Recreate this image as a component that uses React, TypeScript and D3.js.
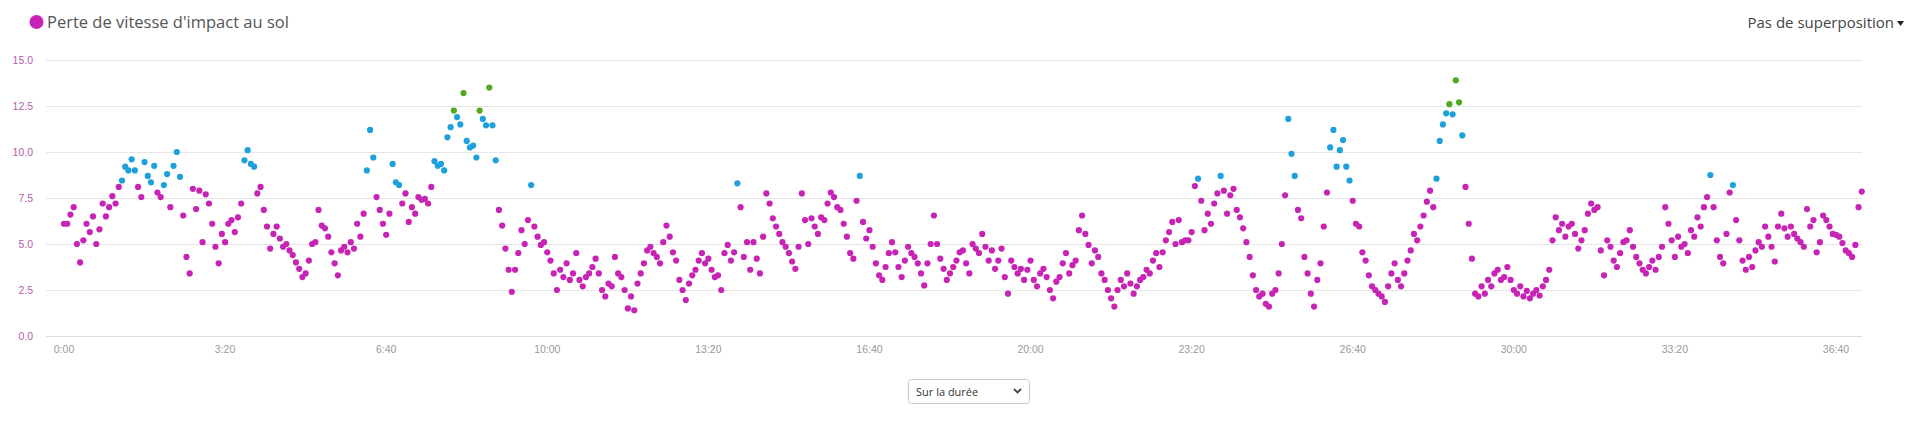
import React, { useEffect, useRef } from 'react';
import * as d3 from 'd3';

// Ground impact speed loss, one reading every 4 s
const SAMPLE_STEP = 4;

// 0:00 - 5:52
const seg1 = [
  6.1, 6.1, 6.6, 7.0, 5.0, 4.0, 5.2, 6.1, 5.65, 6.5,
  5.0, 5.8, 7.2, 6.5, 7.0, 7.6, 7.2, 8.1, 8.45, 9.2,
  9.0, 9.6, 9.0, 8.1, 7.55, 9.45, 8.7, 8.35, 9.25, 7.8,
  7.55, 8.2, 8.8, 7.0, 9.25, 10.0, 8.65, 6.55, 4.3, 3.4,
  8.0, 6.9, 7.9, 5.1, 7.7, 7.2, 6.1, 4.85, 3.95, 5.55,
  5.1, 6.1, 6.3, 5.65, 6.45, 7.2, 9.55, 10.1, 9.35, 9.2,
  7.75, 8.1, 6.85, 5.95, 4.75, 5.55, 5.95, 5.3, 4.85, 5.0,
  4.65, 4.4, 4.0, 3.65, 3.2, 3.4, 4.1, 5.0, 5.1, 6.85,
  6.0, 5.85, 5.4, 4.55, 3.95, 3.3, 4.65, 4.85, 4.55,
];
// 5:56 - 12:12
const seg2 = [
  5.1, 4.75, 6.1, 5.4, 6.65, 9.0, 11.2, 9.7, 7.55, 6.85,
  6.1, 5.5, 6.65, 9.35, 8.35, 8.2, 7.2, 7.75, 6.2, 7.0,
  6.65, 7.55, 7.4, 7.45, 7.2, 8.1, 9.5, 9.25, 9.35, 9.0,
  10.8, 11.35, 12.25, 11.9, 11.5, 13.2, 10.6, 10.25, 10.35, 9.7,
  12.25, 11.8, 11.45, 13.5, 11.45, 9.55, 6.85, 6.0, 4.75, 3.6,
  2.4, 3.6, 4.5, 5.75, 5.0, 6.3, 8.2, 5.95, 5.4, 4.95,
  5.1, 4.55, 4.1, 3.4, 2.5, 3.6, 3.2, 3.95, 3.05, 3.4,
  4.5, 3.05, 2.7, 3.2, 3.4, 3.75, 4.2, 3.4, 2.5, 2.15,
  2.85, 2.7, 4.3, 3.4, 3.2, 2.5, 1.5, 2.15, 1.4, 2.85,
  3.4, 3.95, 4.65, 4.85, 4.5,
];
// 12:16 - 18:32
const seg3 = [
  4.3, 3.95, 5.1, 6.0, 5.4, 4.55, 4.1, 3.05, 2.5, 1.95,
  2.85, 3.3, 3.6, 4.1, 4.5, 3.95, 4.2, 3.6, 3.2, 3.3,
  2.5, 4.5, 4.95, 4.1, 4.55, 8.3, 7.0, 4.3, 5.1, 3.6,
  5.1, 4.2, 3.4, 5.4, 7.75, 7.2, 6.4, 5.95, 5.55, 5.1,
  4.85, 4.5, 4.05, 3.65, 4.85, 7.75, 6.3, 5.0, 6.4, 5.95,
  5.55, 6.45, 6.3, 7.2, 7.8, 7.55, 7.0, 6.85, 6.1, 5.4,
  4.5, 4.2, 7.35, 8.7, 6.2, 5.3, 5.75, 4.85, 3.95, 3.3,
  3.05, 3.75, 4.5, 5.1, 4.55, 3.75, 3.2, 4.1, 4.85, 4.5,
  4.3, 3.95, 3.4, 2.75, 3.95, 5.0, 6.55, 5.0, 4.2, 3.65,
  3.05, 3.4, 3.75, 4.1, 4.55,
];
// 18:36 - 24:52
const seg4 = [
  4.65, 3.95, 3.4, 5.0, 4.75, 4.5, 5.55, 4.85, 4.1, 4.65,
  3.65, 4.1, 4.75, 3.2, 2.3, 4.1, 3.75, 3.4, 3.65, 3.05,
  3.6, 4.1, 3.05, 2.7, 3.4, 3.65, 3.2, 2.5, 2.05, 2.95,
  3.2, 3.95, 4.5, 3.4, 3.85, 4.1, 5.75, 6.55, 5.55, 4.95,
  3.95, 4.65, 4.3, 3.4, 3.05, 2.5, 2.05, 1.6, 2.5, 3.05,
  2.7, 3.4, 2.85, 2.3, 2.7, 3.05, 3.2, 3.6, 3.4, 4.1,
  4.5, 3.75, 4.55, 5.2, 5.65, 6.2, 5.0, 6.3, 5.1, 5.2,
  5.2, 5.65, 8.15, 8.55, 7.35, 5.75, 6.65, 6.1, 7.2, 7.75,
  8.7, 7.9, 6.65, 7.65, 8.0, 6.85, 6.45, 5.85, 5.1, 4.3,
  3.3, 2.5, 2.15, 2.3, 1.75,
];
// 24:56 - 31:08
const seg5 = [
  1.6, 2.3, 2.5, 3.4, 5.0, 7.65, 11.8, 9.9, 8.7, 6.85,
  6.4, 4.3, 3.4, 2.3, 1.6, 3.05, 3.95, 5.95, 7.8, 10.25,
  11.2, 9.2, 10.1, 10.65, 9.2, 8.45, 7.35, 6.1, 5.95, 4.55,
  4.1, 3.3, 2.7, 2.5, 2.3, 2.15, 1.85, 2.7, 3.4, 3.95,
  3.05, 2.7, 3.4, 4.1, 4.65, 5.55, 5.2, 5.95, 6.55, 7.3,
  7.9, 7.0, 8.55, 10.6, 11.5, 12.1, 12.6, 12.05, 13.9, 12.7,
  10.9, 8.1, 6.1, 4.2, 2.3, 2.15, 2.7, 2.3, 3.05, 2.7,
  3.4, 3.6, 3.05, 3.2, 3.75, 3.05, 2.5, 2.3, 2.7, 2.15,
  2.45, 2.05, 2.3, 2.5, 2.2, 2.7, 3.05, 3.6, 5.2, 6.45,
  5.75, 6.1, 5.4, 5.95,
];
// 31:12 - 37:12
const seg6 = [
  6.1, 5.55, 4.75, 5.2, 5.75, 6.65, 7.2, 6.85, 7.0, 4.65,
  3.3, 5.2, 4.85, 4.1, 3.75, 4.5, 5.1, 5.2, 5.75, 4.85,
  4.3, 3.95, 3.6, 3.4, 3.75, 4.1, 3.6, 4.3, 4.85, 7.0,
  6.1, 5.2, 4.3, 5.4, 4.85, 5.0, 4.5, 5.75, 5.4, 6.45,
  5.95, 7.0, 7.55, 8.75, 7.0, 5.2, 4.3, 3.95, 5.55, 7.8,
  8.2, 6.3, 5.2, 4.1, 3.6, 4.3, 3.75, 4.65, 5.1, 4.85,
  5.95, 5.4, 4.85, 4.05, 5.95, 6.65, 5.85, 5.4, 5.95, 5.55,
  5.3, 5.1, 4.85, 6.9, 5.95, 6.3, 4.55, 5.1, 6.55, 6.3,
  5.95, 5.55, 5.5, 5.4, 5.05, 4.65, 4.5, 4.3, 4.95, 7.0,
  7.85,
];

const yTicks = [0, 2.5, 5, 7.5, 10, 12.5, 15];
const xTickSeconds = [0, 200, 400, 600, 800, 1000, 1200, 1400, 1600, 1800, 2000, 2200];

const MAGENTA = '#c724b5';
const BLUE = '#1ea0dd';
const GREEN = '#52a91e';

const zoneColor = (v: number) => (v >= 12.2 ? GREEN : v > 8.15 ? BLUE : MAGENTA);
const fmtTime = (s: number) => `${Math.floor(s / 60)}:${String(s % 60).padStart(2, '0')}`;

const App: React.FC = () => {
  const ref = useRef<SVGSVGElement>(null);

  useEffect(() => {
    document.body.style.margin = '0';
    if (!ref.current) return;
    const svg = d3.select(ref.current);
    svg.selectAll('*').remove();

    const values = [...seg1, ...seg2, ...seg3, ...seg4, ...seg5, ...seg6];
    const data = values.map((v, i) => ({ t: i * SAMPLE_STEP, v }));

    const plotLeft = 46;
    const plotRight = 1862;

    const x = d3.scaleLinear().domain([0, 2200]).range([64, 1836]);
    const y = d3.scaleLinear().domain([0, 15]).range([336, 60]);

    // Gridlines
    svg.append('g')
      .selectAll('line')
      .data(yTicks)
      .enter()
      .append('line')
        .attr('x1', plotLeft)
        .attr('x2', plotRight)
        .attr('y1', d => y(d) + 0.5)
        .attr('y2', d => y(d) + 0.5)
        .attr('stroke', d => (d === 0 ? '#dcdcdc' : '#e6e6e6'))
        .attr('stroke-width', 1);

    // Y labels
    svg.append('g')
      .selectAll('text')
      .data(yTicks)
      .enter()
      .append('text')
        .attr('x', 33)
        .attr('y', d => y(d) + 4)
        .attr('text-anchor', 'end')
        .attr('font-family', 'Arial, "Liberation Sans", sans-serif')
        .attr('font-size', '10.5px')
        .attr('fill', '#b35cae')
        .text(d => d.toFixed(1));

    // X labels
    svg.append('g')
      .selectAll('text')
      .data(xTickSeconds)
      .enter()
      .append('text')
        .attr('x', d => x(d))
        .attr('y', 353)
        .attr('text-anchor', 'middle')
        .attr('font-family', 'Arial, "Liberation Sans", sans-serif')
        .attr('font-size', '10.5px')
        .attr('fill', '#999')
        .text(d => fmtTime(d));

    // Points
    svg.append('g')
      .selectAll('circle')
      .data(data)
      .enter()
      .append('circle')
        .attr('cx', d => x(d.t))
        .attr('cy', d => y(d.v))
        .attr('r', 3.1)
        .attr('fill', d => zoneColor(d.v));

    // Legend
    svg.append('circle')
      .attr('cx', 36.5)
      .attr('cy', 22)
      .attr('r', 7)
      .attr('fill', MAGENTA);

    svg.append('text')
      .attr('x', 47)
      .attr('y', 28)
      .attr('font-family', '"Open Sans", sans-serif')
      .attr('font-size', '16.5px')
      .attr('fill', '#555')
      .text("Perte de vitesse d'impact au sol");

    // Overlay selector
    svg.append('text')
      .attr('x', 1894)
      .attr('y', 28)
      .attr('text-anchor', 'end')
      .attr('font-family', '"Open Sans", sans-serif')
      .attr('font-size', '15px')
      .attr('fill', '#444')
      .text('Pas de superposition');

    svg.append('path')
      .attr('d', 'M1897,21 L1904,21 L1900.5,26 Z')
      .attr('fill', '#222');

    // Bottom dropdown
    const sel = svg.append('g').attr('transform', 'translate(908,379)');
    sel.append('rect')
      .attr('x', 0.5)
      .attr('y', 0.5)
      .attr('width', 121)
      .attr('height', 24)
      .attr('rx', 3)
      .attr('fill', '#fff')
      .attr('stroke', '#c8c8c8');
    sel.append('text')
      .attr('x', 8)
      .attr('y', 16.5)
      .attr('font-family', '"Open Sans", sans-serif')
      .attr('font-size', '11px')
      .attr('fill', '#333')
      .text('Sur la durée');
    sel.append('path')
      .attr('d', 'M106,10 L109.5,13.5 L113,10')
      .attr('fill', 'none')
      .attr('stroke', '#444')
      .attr('stroke-width', 1.8);
  }, []);

  return <svg ref={ref} width={1920} height={425} style={{ display: 'block', background: '#fff' }} />;
};

export default App;
